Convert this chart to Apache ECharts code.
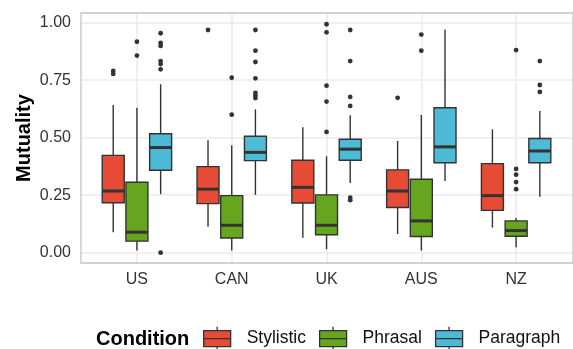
<!DOCTYPE html>
<html>
<head>
<meta charset="utf-8">
<script src="https://cdn.jsdelivr.net/npm/echarts@6/dist/echarts.min.js"></script>
<style>
  html, body { margin: 0; padding: 0; background: #fff; }
  #chart { width: 573px; height: 349px; }
</style>
</head>
<body>
<div id="chart"></div>
<script>
const countries = ['US', 'CAN', 'UK', 'AUS', 'NZ']
const conditions = ['Stylistic', 'Phrasal', 'Paragraph']
const colors = ['#e64b35', '#66a61e', '#4dbbd5']

// per country: [lower whisker, Q1, median, Q3, upper whisker]
const stylistic = [
  [0.089, 0.217, 0.268, 0.423, 0.642],
  [0.113, 0.213, 0.276, 0.374, 0.489],
  [0.065, 0.216, 0.284, 0.402, 0.545],
  [0.081, 0.196, 0.268, 0.360, 0.486],
  [0.109, 0.184, 0.248, 0.387, 0.536]
]
const phrasal = [
  [0.009, 0.050, 0.089, 0.306, 0.630],
  [0.009, 0.064, 0.119, 0.248, 0.467],
  [0.015, 0.078, 0.119, 0.251, 0.419],
  [0.009, 0.070, 0.138, 0.319, 0.599],
  [0.023, 0.071, 0.096, 0.138, 0.151]
]
const paragraph = [
  [0.254, 0.358, 0.457, 0.517, 0.732],
  [0.251, 0.400, 0.436, 0.506, 0.623],
  [0.303, 0.402, 0.450, 0.493, 0.597],
  [0.312, 0.391, 0.460, 0.630, 0.970],
  [0.243, 0.391, 0.442, 0.496, 0.616]
]

// outliers per country
const stylisticOut = [[0.790, 0.777], [0.968], [], [0.673], []]
const phrasalOut = [
  [0.917, 0.857],
  [0.761, 0.600],
  [0.993, 0.958, 0.726, 0.657, 0.525],
  [0.948, 0.878],
  [0.881, 0.364, 0.339, 0.307, 0.276]
]
const paragraphOut = [
  [0.954, 0.912, 0.899, 0.833, 0.820, 0.797, 0.0],
  [0.968, 0.878, 0.829, 0.758, 0.695, 0.683, 0.672],
  [0.968, 0.833, 0.677, 0.638, 0.239, 0.228],
  [],
  [0.833, 0.729, 0.699]
]

const yTicks = [0, 0.25, 0.5, 0.75, 1]

const FONT = '"Liberation Sans", Arial, sans-serif'
const DODGE = 0.25
const BOX_W = 0.232
const LINE = '#333333'

const boxes = [stylistic, phrasal, paragraph]
const outs = [stylisticOut, phrasalOut, paragraphOut]

const renderBox = (offset) => (params, api) => {
  const x = api.value(0) + offset
  const lo = api.coord([x, api.value(1)])
  const q1 = api.coord([x, api.value(2)])
  const md = api.coord([x, api.value(3)])
  const q3 = api.coord([x, api.value(4)])
  const hi = api.coord([x, api.value(5)])
  const hw = api.size([BOX_W, 0])[0] / 2
  const fill = api.visual('color')
  const thin = { stroke: LINE, lineWidth: 1.4 }
  return {
    type: 'group',
    children: [
      { type: 'line', shape: { x1: lo[0], y1: lo[1], x2: q1[0], y2: q1[1] }, style: thin },
      { type: 'line', shape: { x1: q3[0], y1: q3[1], x2: hi[0], y2: hi[1] }, style: thin },
      {
        type: 'rect',
        shape: { x: q3[0] - hw, y: q3[1], width: hw * 2, height: q1[1] - q3[1] },
        style: { fill, stroke: LINE, lineWidth: 1.4 }
      },
      {
        type: 'line',
        shape: { x1: md[0] - hw, y1: md[1], x2: md[0] + hw, y2: md[1] },
        style: { stroke: LINE, lineWidth: 3 }
      }
    ]
  }
}

const series = []
conditions.forEach((name, k) => {
  const offset = (k - 1) * DODGE
  series.push({
    name,
    type: 'custom',
    renderItem: renderBox(offset),
    encode: { x: 0, y: [1, 2, 3, 4, 5] },
    itemStyle: { color: colors[k], borderColor: LINE, borderWidth: 1.3 },
    data: boxes[k].map((b, i) => [i + 1, ...b]),
    z: 3
  })
  const pts = []
  outs[k].forEach((list, i) => list.forEach(v => pts.push([i + 1 + offset, v])))
  series.push({
    name: name + ' outliers',
    type: 'scatter',
    symbolSize: 4.8,
    itemStyle: { color: LINE, opacity: 1 },
    data: pts,
    z: 4
  })
})

const legendIcon = 'path://M13.5,0 L13.5,4 M0,4 L27,4 L27,20 L0,20 Z M0,12 L27,12 M13.5,20 L13.5,24'

const option = {
  animation: false,
  backgroundColor: '#ffffff',
  textStyle: { fontFamily: FONT },
  grid: {
    left: 81,
    top: 13,
    width: 496,
    height: 250,
    show: true,
    z: 1,
    borderColor: '#c4c4c4',
    borderWidth: 1.3,
    backgroundColor: 'transparent'
  },
  graphic: [{
    type: 'text',
    left: 96,
    top: 329,
    style: { text: 'Condition', font: 'bold 20px ' + FONT, fill: '#000' }
  }],
  legend: {
    data: conditions,
    left: 203,
    top: 326,
    width: 460,
    padding: 0,
    itemWidth: 27,
    itemHeight: 24,
    itemGap: 13,
    icon: legendIcon,
    itemStyle: { borderColor: LINE, borderWidth: 1.3 },
    textStyle: { fontSize: 17.5, color: '#111', fontFamily: FONT, padding: [0, 0, 0, 11] }
  },
  xAxis: {
    type: 'value',
    min: 0.41,
    max: 5.6,
    minInterval: 1,
    maxInterval: 1,
    axisLine: { show: false },
    axisTick: { show: false },
    axisLabel: {
      showMinLabel: false,
      showMaxLabel: false,
      fontSize: 16,
      color: '#333',
      margin: 9,
      formatter: v => countries[Math.round(v) - 1] || ''
    },
    splitLine: { show: true, showMinLine: false, showMaxLine: false, lineStyle: { color: '#ebebeb', width: 1.6 } }
  },
  yAxis: {
    type: 'value',
    min: -0.045,
    max: 1.042,
    minInterval: 0.25,
    maxInterval: 0.25,
    name: 'Mutuality',
    nameLocation: 'middle',
    nameGap: 47,
    nameMoveOverlap: false,
    nameTextStyle: { fontSize: 20, fontWeight: 'bold', color: '#000', fontFamily: FONT },
    axisLine: { show: false },
    axisTick: { show: false },
    axisLabel: {
      showMinLabel: false,
      showMaxLabel: false,
      fontSize: 16,
      color: '#333',
      margin: 10,
      formatter: v => (yTicks.some(t => Math.abs(t - v) < 1e-6) ? v.toFixed(2) : '')
    },
    splitLine: { show: true, showMinLine: false, showMaxLine: false, lineStyle: { color: '#ebebeb', width: 1.6 } }
  },
  series
}

const myChart = echarts.init(document.getElementById('chart'))
myChart.setOption(option)
</script>
</body>
</html>
